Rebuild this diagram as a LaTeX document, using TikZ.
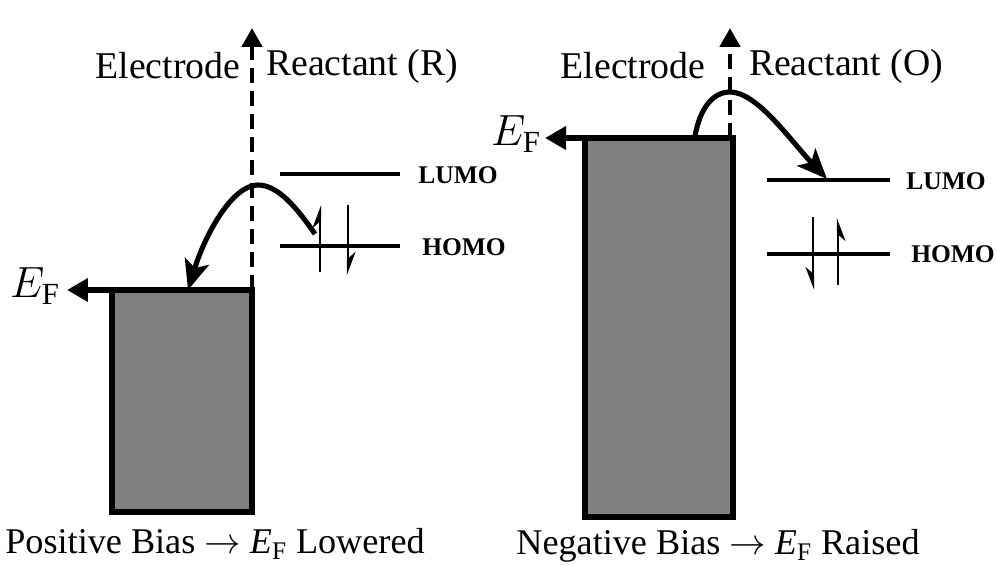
\documentclass[tikz,border=0pt]{standalone}
\usepackage{fontspec}
\setmainfont{Liberation Serif}
\usetikzlibrary{arrows.meta}
\begin{document}
\begin{tikzpicture}[x=0.02cm,y=-0.02cm,
  lbl/.style={font=\fontsize{21.5}{25}\selectfont, inner sep=0pt},
  captext/.style={font=\fontsize{20.6}{24}\selectfont, inner sep=0pt},
  orb/.style={font=\fontsize{14.5}{17}\selectfont\bfseries, inner sep=0pt},
  eflbl/.style={font=\fontsize{25}{30}\selectfont, inner sep=0pt},
  electrode/.style={fill=black!50, draw=black, line width=3.3pt},
  efline/.style={line width=3.3pt, -{Triangle[length=0.42cm,width=0.45cm]}},
  interface/.style={line width=2.7pt, dash pattern=on 0.3cm off 0.16cm, -{Triangle[length=0.38cm,width=0.4cm]}},
  level/.style={line width=2.8pt},
  transfer/.style={line width=2.9pt, -{Stealth[length=0.6cm,width=0.5cm,inset=0.14cm]}},
  spinup/.style={line width=1.3pt, -{Stealth[harpoon,length=0.4cm,width=0.3cm]}},
  spinupr/.style={line width=1.3pt, -{Stealth[harpoon,swap,length=0.4cm,width=0.3cm]}}
]
\useasboundingbox (0,0) rectangle (997,565);

% ---------- left panel ----------
\coordinate (LboxTL) at (112,290);
\coordinate (LboxBR) at (252,512);
\coordinate (LboxTR) at (252,290);
\coordinate (LefEnd) at (67,290);
\coordinate (LdashTop) at (252,28);
\draw[electrode] (LboxTL) rectangle (LboxBR);
\draw[efline] (LboxTR) -- (LefEnd);
\draw[interface] (LboxTR) -- (LdashTop);
\node[eflbl] (LEF) at (35,286) {$E_{\mathrm{F}}$};
\node[lbl] (Lelec) at (168,66) {Electrode};
\node[lbl] (Lreact) at (362,66) {Reactant (R)};

\coordinate (LlumoA) at (280,174);
\coordinate (LlumoB) at (400,174);
\coordinate (LhomoA) at (280,246);
\coordinate (LhomoB) at (400,246);
\draw[level] (LlumoA) -- (LlumoB);
\draw[level] (LhomoA) -- (LhomoB);
\node[orb] (Llumo) at (458,175) {LUMO};
\node[orb] (Lhomo) at (464,247) {HOMO};

\coordinate (Lup0) at (320,272);
\coordinate (Lup1) at (320,205);
\coordinate (Ldn0) at (348,205);
\coordinate (Ldn1) at (348,275);
\draw[spinup] (Lup0) -- (Lup1);
\draw[spinup] (Ldn0) -- (Ldn1);

\coordinate (Ltr0) at (315,234);
\coordinate (Ltrp) at (258,185);
\coordinate (Ltr1) at (188,290);
\draw[transfer] (Ltr0) .. controls (297,208) and (278,185) .. (Ltrp)
  .. controls (232,185) and (205,235) .. (Ltr1);

\node[captext] (Lcap) at (215,544) {Positive Bias $\rightarrow$ \textit{E}$_{\mathrm{F}}$ Lowered};

% ---------- right panel ----------
\coordinate (RboxTL) at (585,138);
\coordinate (RboxBR) at (733,517);
\coordinate (RboxTR) at (733,138);
\coordinate (RefEnd) at (545,138);
\coordinate (RdashTop) at (730,28);
\coordinate (RdashBot) at (730,138);
\draw[electrode] (RboxTL) rectangle (RboxBR);
\draw[efline] (RboxTR) -- (RefEnd);
\draw[interface] (RdashBot) -- (RdashTop);
\node[eflbl] (REF) at (516,134) {$E_{\mathrm{F}}$};
\node[lbl] (Relec) at (633,66) {Electrode};
\node[lbl] (Rreact) at (846,66) {Reactant (O)};

\coordinate (RlumoA) at (767,180);
\coordinate (RlumoB) at (890,180);
\coordinate (RhomoA) at (767,254);
\coordinate (RhomoB) at (890,254);
\draw[level] (RlumoA) -- (RlumoB);
\draw[level] (RhomoA) -- (RhomoB);
\node[orb] (Rlumo) at (946,181) {LUMO};
\node[orb] (Rhomo) at (953,254) {HOMO};

\coordinate (Rdn0) at (813,217);
\coordinate (Rdn1) at (813,290);
\coordinate (Rup0) at (838,285);
\coordinate (Rup1) at (838,218);
\draw[spinupr] (Rdn0) -- (Rdn1);
\draw[spinupr] (Rup0) -- (Rup1);

\coordinate (Rtr0) at (695,136);
\coordinate (Rtrp) at (730,92);
\coordinate (Rtr1) at (827,179);
\draw[transfer] (Rtr0) .. controls (700,108) and (713,92) .. (Rtrp)
  .. controls (757,92) and (790,140) .. (Rtr1);

\node[captext] (Rcap) at (718,546) {Negative Bias $\rightarrow$ \textit{E}$_{\mathrm{F}}$ Raised};
\end{tikzpicture}
\end{document}
